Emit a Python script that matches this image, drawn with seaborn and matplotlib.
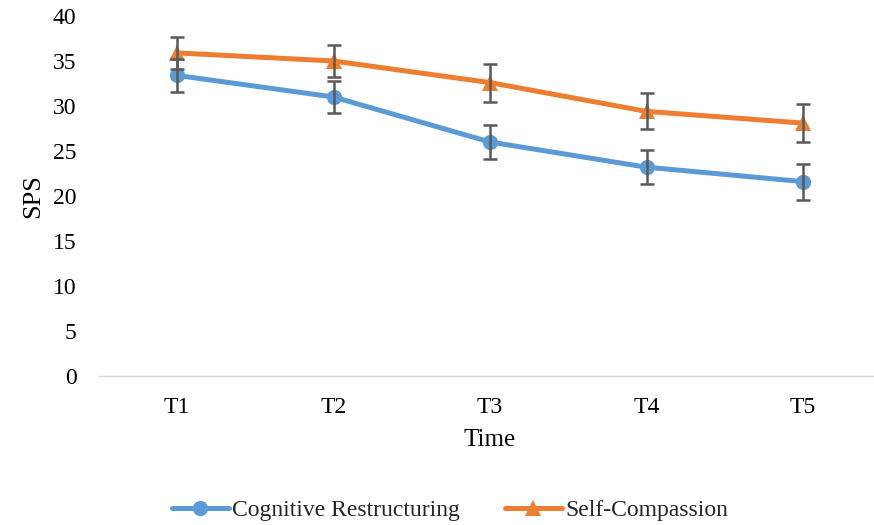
import matplotlib
matplotlib.use("Agg")
import matplotlib.pyplot as plt
import seaborn as sns
import pandas as pd

times = ["T1", "T2", "T3", "T4", "T5"]
cr_values = [33.4, 31.0, 26.0, 23.2, 21.6]
cr_errors = [1.8, 1.8, 1.9, 1.9, 2.0]
sc_values = [35.9, 35.0, 32.6, 29.4, 28.1]
sc_errors = [1.8, 1.8, 2.1, 2.0, 2.1]
series_names = ["Cognitive Restructuring", "Self-Compassion"]
y_ticks = [0, 5, 10, 15, 20, 25, 30, 35, 40]

sns.set_theme(style="white")
plt.rcParams["font.family"] = ["Liberation Serif", "DejaVu Serif"]

df = pd.DataFrame({
    "Time": times * 2,
    "SPS": cr_values + sc_values,
    "Group": [series_names[0]] * len(times) + [series_names[1]] * len(times),
})

fig = plt.figure(figsize=(8.74, 5.25), dpi=100)
ax = fig.add_axes([98.75 / 874, 1 - 376 / 525, 782.5 / 874, 360 / 525])

colors = {series_names[0]: "#5B9BD5", series_names[1]: "#ED7D31"}
sns.lineplot(data=df, x="Time", y="SPS", hue="Group", style="Group",
             markers={series_names[0]: "o", series_names[1]: "^"},
             dashes=False, palette=colors, linewidth=3.6, markersize=11,
             markeredgewidth=0, sort=False, ax=ax, legend=True, zorder=2)

for vals, errs in [(cr_values, cr_errors), (sc_values, sc_errors)]:
    ax.errorbar(times, vals, yerr=errs, fmt="none", ecolor="#595959",
                elinewidth=1.8, capsize=5, capthick=1.8, zorder=3)

ax.set_ylim(0, 40)
ax.set_xlim(-0.5, 4.5)
ax.set_yticks(y_ticks)
ax.tick_params(axis="both", length=0, labelsize=17, colors="black")
ax.tick_params(axis="x", pad=15)
ax.tick_params(axis="y", pad=16)
for s in ["top", "right", "left"]:
    ax.spines[s].set_visible(False)
ax.spines["bottom"].set_color("#D9D9D9")
ax.spines["bottom"].set_linewidth(1.0)
ax.spines["bottom"].set_clip_on(False)
ax.set_xlabel("Time", fontsize=18, color="black", labelpad=8)
ax.set_ylabel("SPS", fontsize=19, color="black", labelpad=6)

handles, labels = ax.get_legend_handles_labels()
ax.legend_.remove()
fig.legend(handles, labels, loc="center", bbox_to_anchor=(450 / 874, 15 / 525),
           ncol=2, frameon=False, fontsize=17, handlelength=2.4,
           columnspacing=1.9, handletextpad=0.15, borderpad=0)

fig.savefig("out.png", dpi=100)
